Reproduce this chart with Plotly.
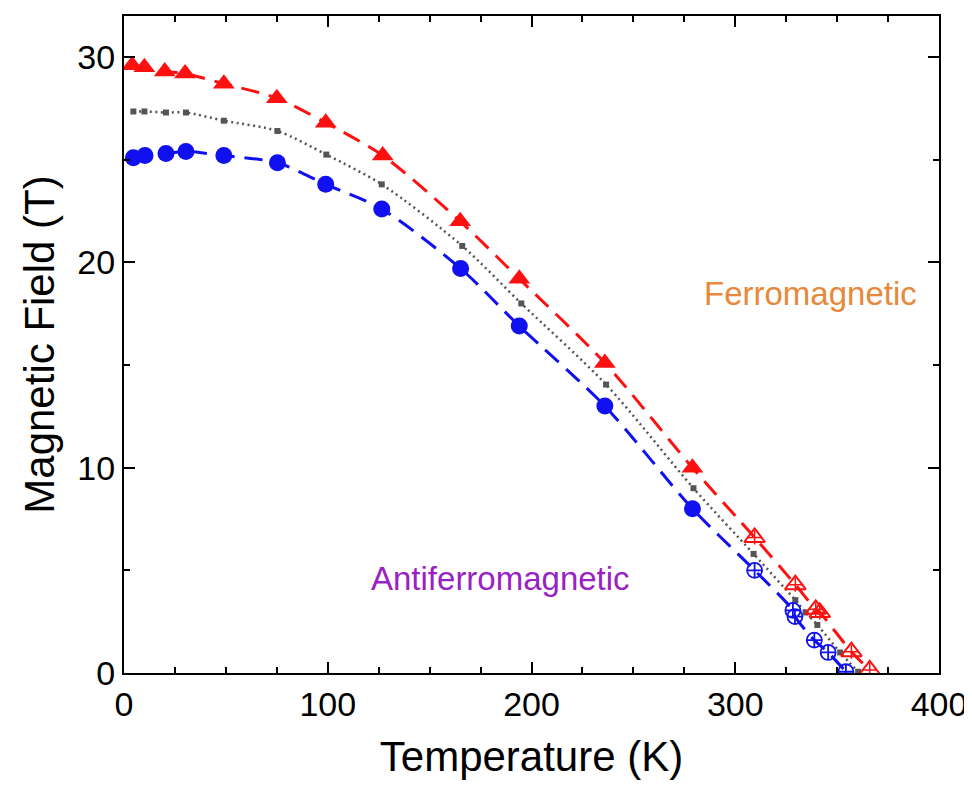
import plotly.graph_objects as go

# --- Data ---
# Red (upper boundary): filled triangles, then open (crossed) triangles
red_T_filled = [4, 10, 20, 30, 49, 75, 99, 127, 165, 194, 236, 279]
red_H_filled = [29.6, 29.5, 29.3, 29.2, 28.7, 28.0, 26.8, 25.2, 22.0, 19.2, 15.1, 10.0]
red_T_open = [309.5, 329.5, 339.5, 341.5, 357, 366]
red_H_open = [6.6, 4.3, 3.1, 2.95, 1.04, 0.15]

# Gray (average): small squares
gray_T = [4.6, 10, 20.6, 30.4, 49, 75.3, 99.3, 126.5, 166, 195, 236.6, 279.5,
          309, 329.5, 334.6, 340.3, 351.5, 360.3]
gray_H = [27.35, 27.35, 27.3, 27.3, 26.9, 26.4, 25.25, 23.8, 20.8, 18.0, 14.05, 9.0,
          5.8, 3.55, 2.95, 2.34, 1.0, 0.06]

# Blue (lower boundary): filled circles, then open (crossed) circles
blue_T_filled = [4.6, 10.3, 20.6, 30.4, 49, 75.3, 99, 126.5, 165.2, 194, 236, 279]
blue_H_filled = [25.1, 25.2, 25.3, 25.4, 25.2, 24.85, 23.8, 22.6, 19.7, 16.9, 13.0, 8.0]
blue_T_open = [309.5, 328.3, 329.3, 338.8, 345.6, 354.3]
blue_H_open = [5.0, 3.05, 2.75, 1.6, 1.0, 0.06]

x_ticks = [0, 100, 200, 300, 400]
y_ticks = [0, 10, 20, 30]

RED = "#FF1010"
BLUE = "#1010F0"
GRAY = "#555555"
FONT = "Liberation Sans, Arial, sans-serif"

fig = go.Figure()

# lines
fig.add_trace(go.Scatter(
    x=red_T_filled + red_T_open, y=red_H_filled + red_H_open, mode="lines",
    line=dict(color=RED, width=3, dash="18px,10px", shape="spline", smoothing=0.8),
    hoverinfo="skip", showlegend=False))
fig.add_trace(go.Scatter(
    x=blue_T_filled + blue_T_open, y=blue_H_filled + blue_H_open, mode="lines",
    line=dict(color=BLUE, width=3, dash="18px,10px", shape="spline", smoothing=0.8),
    hoverinfo="skip", showlegend=False))
fig.add_trace(go.Scatter(
    x=gray_T, y=gray_H, mode="lines+markers",
    line=dict(color=GRAY, width=2.5, dash="2px,3.5px", shape="spline", smoothing=0.8),
    marker=dict(symbol="square", size=6, color=GRAY),
    showlegend=False))

# markers
fig.add_trace(go.Scatter(
    x=red_T_filled, y=red_H_filled, mode="markers",
    marker=dict(symbol="triangle-up", size=19, color=RED), showlegend=False))
fig.add_trace(go.Scatter(
    x=red_T_open, y=red_H_open, mode="markers",
    marker=dict(symbol="triangle-up-open", size=18, color=RED, line=dict(width=2, color=RED)),
    showlegend=False))
fig.add_trace(go.Scatter(
    x=red_T_open, y=red_H_open, mode="markers",
    marker=dict(symbol="cross-thin-open", size=10, color=RED, line=dict(width=1.5, color=RED)),
    showlegend=False))
fig.add_trace(go.Scatter(
    x=blue_T_filled, y=blue_H_filled, mode="markers",
    marker=dict(symbol="circle", size=17, color=BLUE), showlegend=False))
fig.add_trace(go.Scatter(
    x=blue_T_open, y=blue_H_open, mode="markers",
    marker=dict(symbol="circle-cross-open", size=15, color=BLUE, line=dict(width=1.8, color=BLUE)),
    showlegend=False))

axis_common = dict(
    showline=True, linewidth=2, linecolor="black", mirror="ticks",
    ticks="inside", ticklen=11, tickwidth=2, tickcolor="black",
    showgrid=False, zeroline=False, automargin=False,
    tickfont=dict(family=FONT, size=34, color="black"),
)

fig.update_xaxes(
    range=[0, 400], tickvals=x_ticks, ticktext=[str(v) for v in x_ticks],
    minor=dict(dtick=25, tick0=0, ticks="inside", ticklen=6, tickwidth=1.5, tickcolor="black"),
    title=dict(text="Temperature (K)", standoff=20,
               font=dict(family=FONT, size=42, color="black")),
    **axis_common)
fig.update_yaxes(
    range=[0, 32], tickvals=y_ticks, ticktext=[str(v) for v in y_ticks],
    minor=dict(dtick=5, tick0=0, ticks="inside", ticklen=6, tickwidth=1.5, tickcolor="black"),
    title=dict(text="Magnetic Field (T)", standoff=10,
               font=dict(family=FONT, size=42, color="black")),
    **axis_common)

fig.add_annotation(x=337, y=18.5, text="Ferromagnetic", showarrow=False,
                   font=dict(family=FONT, size=33, color="#E8883A"))
fig.add_annotation(x=185, y=4.6, text="Antiferromagnetic", showarrow=False,
                   font=dict(family=FONT, size=33, color="#9A1FC4"))

fig.update_layout(
    width=972, height=789,
    margin=dict(l=116, r=41, t=8, b=124),
    plot_bgcolor="white", paper_bgcolor="white",
    showlegend=False,
)

fig.write_html("out.html")
